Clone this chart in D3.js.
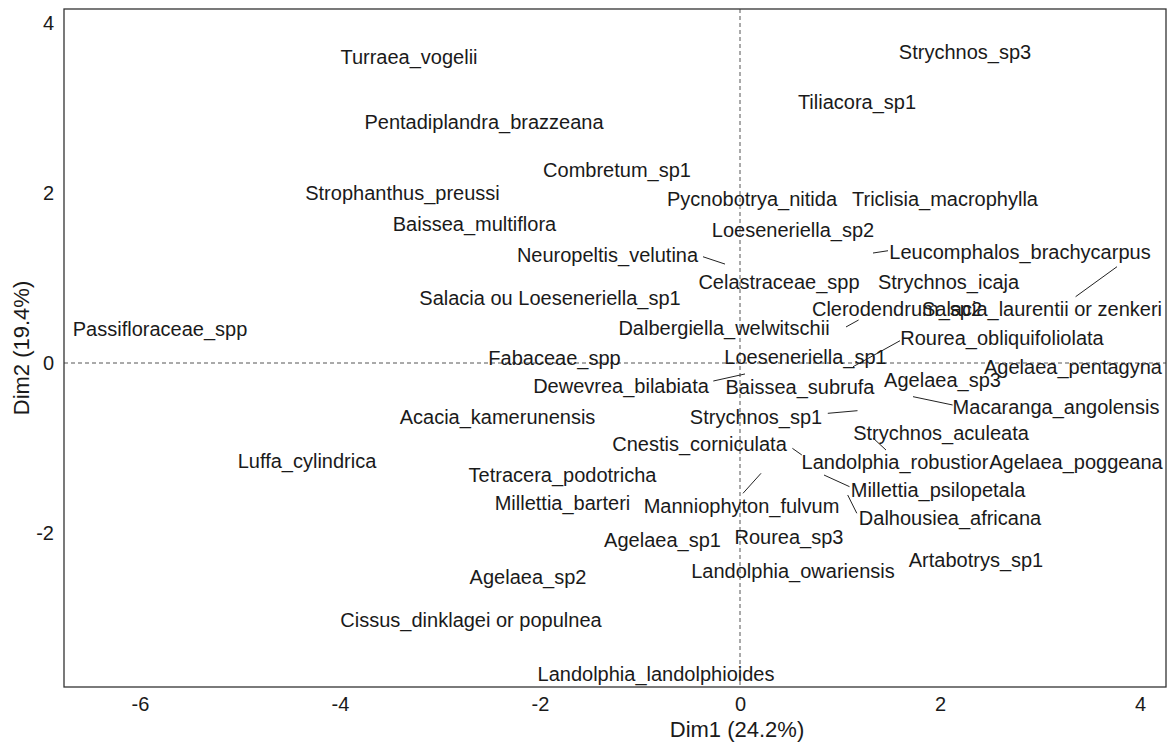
<!DOCTYPE html>
<html>
<head>
<meta charset="utf-8">
<script src="https://cdn.jsdelivr.net/npm/d3@7"></script>
<style>
  html, body { margin: 0; padding: 0; background: #fff; }
  svg { display: block; font-family: "Liberation Sans", Arial, sans-serif; }
</style>
</head>
<body>
<svg id="chart" width="1167" height="744"></svg>
<script>
// ---- data ----
const species = [
  "Turraea_vogelii", "Strychnos_sp3", "Tiliacora_sp1", "Pentadiplandra_brazzeana",
  "Combretum_sp1", "Strophanthus_preussi", "Pycnobotrya_nitida", "Triclisia_macrophylla",
  "Baissea_multiflora", "Loeseneriella_sp2", "Neuropeltis_velutina", "Leucomphalos_brachycarpus",
  "Celastraceae_spp", "Strychnos_icaja", "Salacia ou Loeseneriella_sp1", "Clerodendrum_sp2",
  "Salacia_laurentii or zenkeri", "Dalbergiella_welwitschii", "Passifloraceae_spp", "Rourea_obliquifoliolata",
  "Fabaceae_spp", "Loeseneriella_sp1", "Agelaea_pentagyna", "Dewevrea_bilabiata",
  "Baissea_subrufa", "Agelaea_sp3", "Macaranga_angolensis", "Strychnos_sp1",
  "Acacia_kamerunensis", "Strychnos_aculeata", "Cnestis_corniculata", "Landolphia_robustior",
  "Agelaea_poggeana", "Luffa_cylindrica", "Tetracera_podotricha", "Millettia_psilopetala",
  "Millettia_barteri", "Manniophyton_fulvum", "Dalhousiea_africana", "Rourea_sp3",
  "Agelaea_sp1", "Artabotrys_sp1", "Landolphia_owariensis", "Agelaea_sp2",
  "Cissus_dinklagei or populnea", "Landolphia_landolphioides"
];
// label positions (Dim1, Dim2)
const dim1 = [
  -3.31, 2.25, 1.17, -2.56,
  -1.23, -3.375, 0.12, 2.05,
  -2.655, 0.53, -1.325, 2.80,
  0.39, 2.085, -1.90, 1.57,
  3.02, -0.16, -5.80, 2.62,
  -1.855, 0.655, 3.33, -1.19,
  0.60, 2.025, 3.16, 0.16,
  -2.425, 2.01, -0.405, 1.55,
  3.36, -4.33, -1.775, 1.98,
  -1.775, 0.015, 2.10, 0.49,
  -0.775, 2.36, 0.53, -2.12,
  -2.69, -0.84
];
const dim2 = [
  3.60, 3.66, 3.07, 2.84,
  2.27, 2.00, 1.93, 1.93,
  1.635, 1.565, 1.27, 1.31,
  0.95, 0.95, 0.765, 0.635,
  0.635, 0.41, 0.40, 0.295,
  0.06, 0.07, -0.045, -0.27,
  -0.28, -0.20, -0.52, -0.635,
  -0.635, -0.82, -0.955, -1.165,
  -1.165, -1.15, -1.32, -1.495,
  -1.645, -1.68, -1.825, -2.045,
  -2.08, -2.32, -2.445, -2.52,
  -3.02, -3.66
];
// repel segments: [x1, y1, x2, y2] in data units
const segments = [
  [-0.37, 1.25, -0.15, 1.164],
  [1.33, 1.294, 1.48, 1.321],
  [3.356, 0.78, 3.77, 1.133],
  [1.06, 0.424, 1.186, 0.506],
  [1.13, -0.044, 1.60, 0.262],
  [-0.267, -0.212, 0.05, -0.129],
  [1.73, -0.396, 2.126, -0.494],
  [0.878, -0.592, 1.175, -0.561],
  [1.33, -0.882, 1.46, -1.024],
  [0.524, -1.004, 0.618, -1.082],
  [0.21, -1.298, 0.03, -1.533],
  [0.84, -1.318, 1.095, -1.455],
  [1.077, -1.553, 1.168, -1.768]
];
const xTicks = [-6, -4, -2, 0, 2, 4];
const yTicks = [-2, 0, 2, 4];
const xTitle = "Dim1 (24.2%)";
const yTitle = "Dim2 (19.4%)";

// ---- layout ----
const svg = d3.select("#chart");
const pLeft = 64, pRight = 1166, pTop = 9, pBottom = 687;
const x = d3.scaleLinear().domain([-6.76, 4.26]).range([pLeft, pRight]);
const y = d3.scaleLinear().domain([-3.812, 4.165]).range([pBottom, pTop]);
const fmt = d => String(d); // plain hyphen-minus as in the reference

// reference lines
svg.append("line")
  .attr("x1", x(0)).attr("x2", x(0)).attr("y1", pTop).attr("y2", pBottom)
  .attr("stroke", "#555").attr("stroke-width", 1).attr("stroke-dasharray", "4,3");
svg.append("line")
  .attr("x1", pLeft).attr("x2", pRight).attr("y1", y(0)).attr("y2", y(0))
  .attr("stroke", "#555").attr("stroke-width", 1).attr("stroke-dasharray", "4,3");

// segments
svg.append("g").selectAll("line").data(segments).join("line")
  .attr("x1", d => x(d[0])).attr("y1", d => y(d[1]))
  .attr("x2", d => x(d[2])).attr("y2", d => y(d[3]))
  .attr("stroke", "#222").attr("stroke-width", 1);

// labels
svg.append("g").selectAll("text").data(species).join("text")
  .attr("x", (d, i) => x(dim1[i]))
  .attr("y", (d, i) => y(dim2[i]))
  .attr("dy", "0.35em")
  .attr("text-anchor", "middle")
  .attr("font-size", 20)
  .attr("fill", "#1a1a1a")
  .text(d => d);

// axes (no tick marks, no domain line)
const xAxis = svg.append("g").attr("transform", `translate(0,${pBottom})`)
  .call(d3.axisBottom(x).tickValues(xTicks).tickSize(0).tickPadding(10).tickFormat(fmt));
xAxis.select(".domain").remove();
xAxis.selectAll("text").attr("font-size", 20).attr("fill", "#1a1a1a")
  .attr("font-family", "Liberation Sans, Arial, sans-serif");

const yAxis = svg.append("g").attr("transform", `translate(${pLeft},0)`)
  .call(d3.axisLeft(y).tickValues(yTicks).tickSize(0).tickPadding(10).tickFormat(fmt));
yAxis.select(".domain").remove();
yAxis.selectAll("text").attr("font-size", 20).attr("fill", "#1a1a1a")
  .attr("font-family", "Liberation Sans, Arial, sans-serif");

// frame
svg.append("rect")
  .attr("x", pLeft).attr("y", pTop).attr("width", pRight - pLeft).attr("height", pBottom - pTop)
  .attr("fill", "none").attr("stroke", "#333").attr("stroke-width", 1.3);

// titles
svg.append("text")
  .attr("x", 737).attr("y", 729).attr("dy", "0.35em")
  .attr("text-anchor", "middle").attr("font-size", 22).attr("fill", "#1a1a1a")
  .text(xTitle);
svg.append("text")
  .attr("transform", `translate(21,${(pTop + pBottom) / 2}) rotate(-90)`)
  .attr("dy", "0.35em")
  .attr("text-anchor", "middle").attr("font-size", 22).attr("fill", "#1a1a1a")
  .text(yTitle);
</script>
</body>
</html>
